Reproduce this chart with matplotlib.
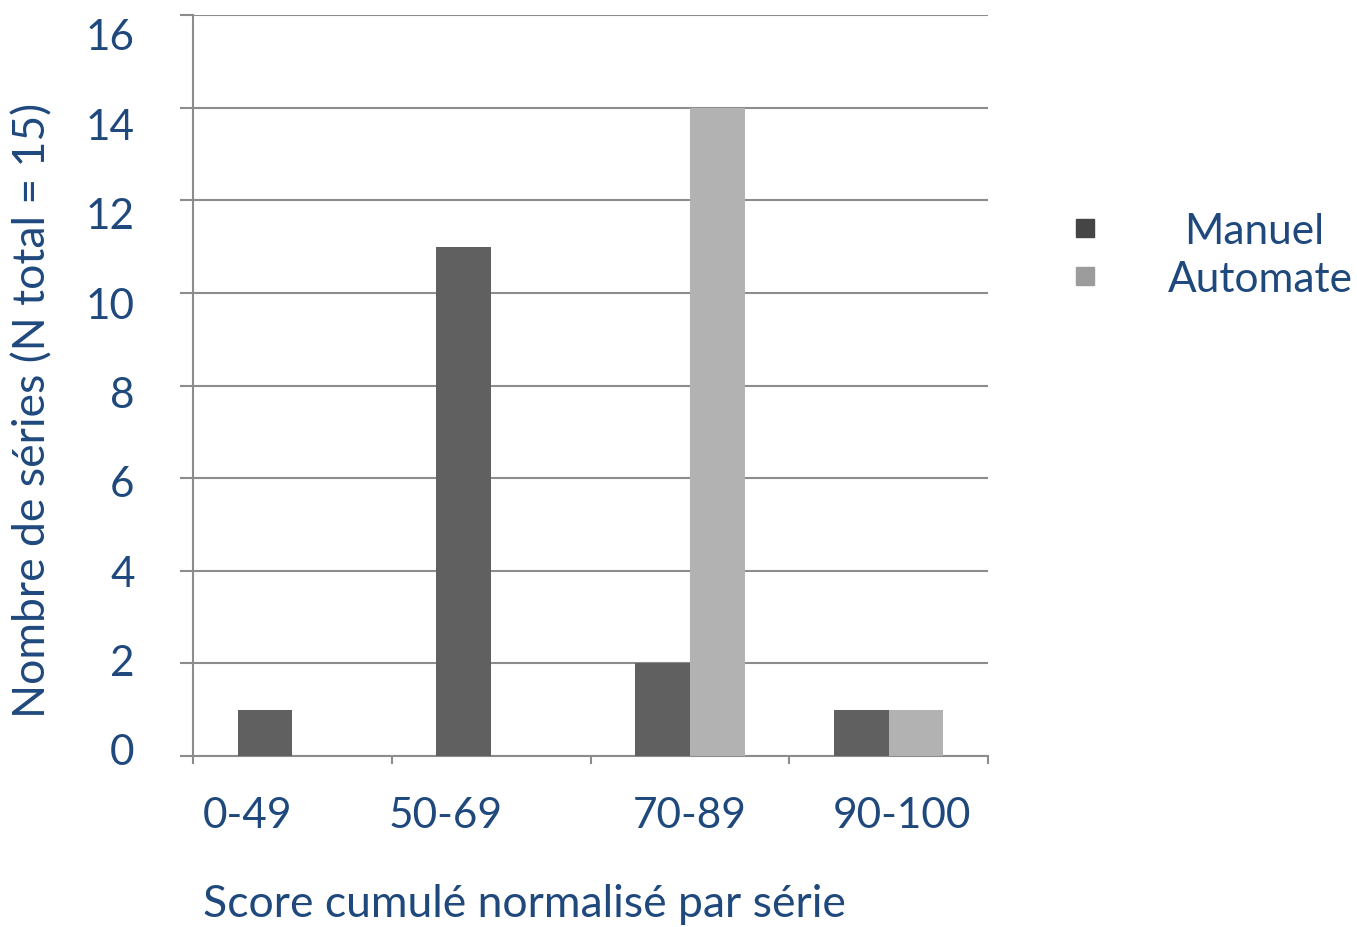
import matplotlib
matplotlib.use("Agg")
import matplotlib.pyplot as plt
from matplotlib.lines import Line2D
import numpy as np

categories = ["0-49", "50-69", "70-89", "90-100"]
series_names = ["Manuel", "Automate"]
manuel = [1, 11, 2, 1]
automate = [0, 0, 14, 1]
y_ticks = [0, 2, 4, 6, 8, 10, 12, 14, 16]
ylabel = "Nombre de séries (N total = 15)"
xlabel = "Score cumulé normalisé par série"

# style
TXT = "#1f497d"
GRID = "#8c8c8c"
C_MAN = "#606060"
C_AUT = "#b2b2b2"
FONT = "Lato"
FS = 30.5
FS_LAB = 32
label_shift = [-0.226, -0.231, 0.0, 0.065]

plt.rcParams['font.family'] = [FONT, 'DejaVu Sans']

W, H = 1357, 928
fig = plt.figure(figsize=(W / 100, H / 100), dpi=100)
ax = fig.add_axes([193 / W, 1 - 757 / H, (988 - 193) / W, (757 - 16) / H])

x = np.arange(len(categories))
bw = 0.276
ax.bar(x - bw / 2, manuel, bw, color=C_MAN, zorder=3)
ax.bar(x + bw / 2, automate, bw, color=C_AUT, zorder=3)

ax.set_xlim(-0.5, len(categories) - 0.5)
ax.set_ylim(0, 16)

# gridlines + y ticks
ax.set_yticks(y_ticks)
ax.set_yticklabels([])
ax.yaxis.grid(True, color=GRID, linewidth=1.5, zorder=0)
ax.tick_params(axis='y', length=9.5, width=1.5, color=GRID, direction='out')

# x ticks at category boundaries
ax.set_xticks(np.arange(len(categories) + 1) - 0.5)
ax.set_xticklabels([])
ax.tick_params(axis='x', which='major', length=6, width=1.5, color=GRID, direction='out')
ax.set_xticks(x + np.array(label_shift), minor=True)
ax.set_xticklabels(categories, minor=True, fontsize=FS, color=TXT)
ax.tick_params(axis='x', which='minor', length=0, pad=29)

for s in ['top', 'right']:
    ax.spines[s].set_visible(False)
for s in ['left', 'bottom']:
    ax.spines[s].set_color(GRID)
    ax.spines[s].set_linewidth(1.5)

# y tick labels on a slightly differently scaled secondary axis (as in reference)
def finv(s):
    return (7 + 44.69 * np.asarray(s)) / 46.31

def f(v):
    return (46.31 * np.asarray(v) - 7) / 44.69

sec = ax.secondary_yaxis('left', functions=(f, finv))
sec.set_yticks(y_ticks)
sec.set_yticklabels([str(t) for t in y_ticks], fontsize=FS, color=TXT)
sec.tick_params(length=0, pad=42)
sec.spines['left'].set_visible(False)

fig.text(33 / W, 1 - 410 / H, ylabel, rotation=90, ha='center', va='center',
         fontsize=FS_LAB, color=TXT)
fig.text(524 / W, 1 - 905 / H, xlabel, ha='center', va='center',
         fontsize=FS_LAB, color=TXT)

handles = [Line2D([], [], marker='s', linestyle='none', markersize=13,
                  markerfacecolor=c, markeredgecolor=c)
           for c in ["#454545", "#9c9c9c"]]
leg = fig.legend(handles, series_names, loc='upper left',
                 bbox_to_anchor=(1060 / W, 1 - 213 / H), frameon=False,
                 fontsize=FS, labelcolor=TXT, handletextpad=1.35,
                 labelspacing=0.24, borderpad=0, borderaxespad=0,
                 handlelength=1.2)
# centre the shorter legend entry under the longer one (as in reference)
fig.canvas.draw()
r = fig.canvas.get_renderer()
texts = leg.get_texts()
wmax = max(t.get_window_extent(r).width for t in texts)
for t in texts:
    t.set_x((wmax - t.get_window_extent(r).width) / 2 * 72 / fig.dpi)

fig.savefig("out.png", dpi=100)
